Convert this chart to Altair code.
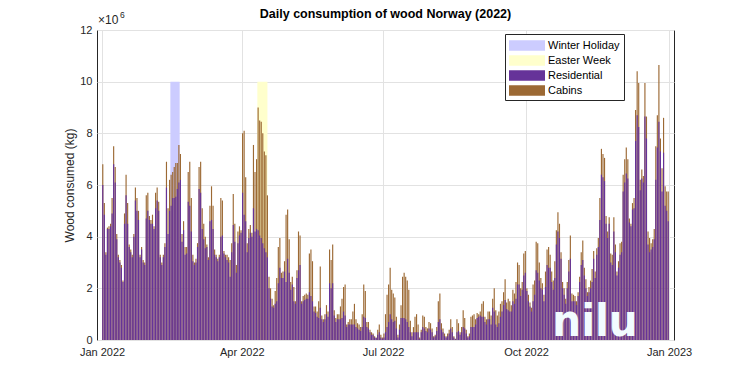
import pandas as pd
import altair as alt

# Daily values in units of 10^6 kg (total = residential + cabins; residential part)
tot_jan = [6.8, 5.3, 3.4, 4.35, 4.4, 4.5, 5.5, 7.5, 6.7, 4.1, 3.3, 3.1, 2.9, 2.3, 4.9, 6.4, 5.3, 3.7, 3.5, 3.3, 4.1, 5.9, 5.5, 5.0, 3.3, 3.6, 3.1, 3.0, 5.6, 5.7, 4.8]
res_jan = [6.0, 4.85, 3.3, 4.3, 4.3, 4.4, 4.9, 6.8, 6.1, 3.9, 3.2, 3.0, 2.8, 2.25, 4.5, 5.6, 4.5, 3.6, 3.4, 3.2, 4.0, 5.4, 5.0, 4.65, 3.2, 3.5, 3.0, 2.9, 4.7, 5.0, 4.65]
tot_feb = [4.65, 4.85, 4.4, 5.7, 5.9, 5.35, 3.3, 3.0, 3.3, 3.75, 6.9, 5.1, 6.2, 6.4, 6.5, 6.7, 6.85, 6.85, 7.55, 7.2, 4.1, 4.6, 3.6, 3.6, 6.5, 6.9, 5.5, 3.3]
res_feb = [4.5, 4.5, 4.3, 5.1, 5.4, 5.0, 3.2, 2.9, 3.2, 3.6, 5.9, 4.1, 5.0, 5.2, 5.5, 5.5, 5.55, 5.85, 6.1, 6.2, 3.8, 4.25, 3.3, 3.35, 5.35, 5.2, 4.2, 3.05]
tot_mar = [3.0, 3.15, 3.75, 6.7, 6.9, 5.1, 4.5, 4.0, 3.7, 3.2, 5.2, 5.95, 5.2, 3.5, 3.3, 3.15, 3.3, 5.5, 5.4, 3.45, 3.3, 3.3, 3.2, 3.1, 3.75, 5.65, 4.5, 2.9, 4.2, 4.4, 4.25]
res_mar = [2.9, 3.0, 3.6, 5.85, 5.7, 4.3, 3.9, 3.55, 3.6, 3.1, 4.6, 4.65, 4.3, 3.3, 3.2, 3.05, 3.2, 4.0, 4.05, 3.35, 3.2, 3.1, 3.0, 2.45, 3.4, 4.45, 3.8, 2.6, 3.75, 4.05, 4.15]
tot_apr = [8.0, 8.1, 6.3, 3.75, 4.3, 4.45, 4.15, 7.55, 6.5, 7.0, 9.0, 8.5, 8.45, 8.0, 7.3, 7.15, 5.6, 2.45, 2.0, 1.6, 1.35, 1.9, 2.4, 3.6, 3.95, 2.6, 2.65, 3.05, 4.85, 5.05]
res_apr = [5.7, 4.85, 4.6, 3.4, 3.95, 4.15, 4.0, 5.1, 4.2, 4.3, 4.25, 4.05, 3.95, 3.75, 3.55, 3.4, 3.2, 2.0, 1.6, 1.3, 1.25, 1.4, 1.5, 2.2, 2.8, 2.4, 2.4, 2.65, 2.25, 3.15]
tot_may = [3.9, 2.25, 2.45, 2.05, 1.5, 2.7, 4.2, 4.05, 1.5, 1.7, 1.75, 1.8, 1.75, 3.35, 3.5, 3.05, 1.3, 1.3, 1.1, 1.5, 2.85, 0.95, 0.8, 1.0, 1.35, 1.1, 3.5, 3.1, 3.7, 1.15, 0.85]
res_may = [2.6, 1.95, 2.15, 1.5, 1.4, 2.4, 2.7, 2.9, 1.4, 1.5, 1.55, 1.6, 1.6, 1.85, 1.7, 1.5, 1.1, 1.05, 0.9, 0.85, 1.25, 0.8, 0.7, 0.8, 1.0, 0.9, 2.2, 2.0, 2.2, 0.95, 0.7]
tot_jun = [1.0, 1.0, 1.3, 1.6, 2.05, 2.15, 0.6, 0.7, 0.8, 0.8, 1.1, 1.4, 0.8, 0.65, 0.6, 0.5, 1.0, 2.15, 1.9, 0.7, 0.7, 0.4, 0.3, 0.25, 0.15, 0.1, 0.4, 0.6, 0.2, 0.1]
res_jun = [0.8, 0.8, 0.8, 0.85, 1.1, 0.95, 0.5, 0.6, 0.6, 0.6, 0.6, 0.6, 0.5, 0.45, 0.4, 0.35, 0.5, 0.9, 0.85, 0.5, 0.45, 0.3, 0.2, 0.2, 0.1, 0.08, 0.2, 0.3, 0.1, 0.05]
tot_jul = [0.25, 1.0, 1.75, 2.15, 2.8, 1.95, 1.8, 1.65, 0.9, 0.2, 0.6, 1.35, 2.45, 2.6, 2.45, 2.3, 1.95, 0.75, 0.3, 0.5, 0.9, 1.0, 0.6, 0.1, 0.4, 0.95, 0.9, 0.5, 0.45, 0.7, 0.65]
res_jul = [0.1, 0.3, 0.5, 0.7, 1.0, 0.8, 0.7, 0.75, 0.45, 0.1, 0.4, 0.85, 0.85, 0.85, 0.8, 0.7, 0.5, 0.3, 0.15, 0.3, 0.3, 0.3, 0.3, 0.05, 0.3, 0.5, 0.45, 0.35, 0.3, 0.45, 0.4]
tot_aug = [0.45, 0.15, 0.2, 0.5, 1.5, 1.8, 0.65, 0.45, 0.25, 0.15, 0.25, 0.4, 0.8, 0.5, 0.15, 0.05, 0.8, 0.65, 0.3, 0.5, 1.15, 0.85, 0.4, 0.15, 0.25, 0.9, 0.95, 1.0, 0.8, 1.05, 1.0]
res_aug = [0.3, 0.1, 0.15, 0.35, 0.7, 0.8, 0.4, 0.3, 0.15, 0.1, 0.15, 0.25, 0.45, 0.3, 0.1, 0.03, 0.3, 0.35, 0.2, 0.3, 0.5, 0.45, 0.25, 0.1, 0.15, 0.5, 0.5, 0.5, 0.6, 0.85, 0.9]
tot_sep = [1.1, 1.4, 1.5, 0.9, 0.8, 1.1, 1.1, 0.95, 1.6, 2.0, 1.15, 0.95, 1.1, 1.4, 1.5, 1.85, 2.35, 1.45, 1.6, 1.5, 1.35, 1.95, 1.8, 2.25, 3.0, 2.9, 2.0, 2.25, 3.35, 3.45]
res_sep = [0.95, 0.9, 0.9, 0.7, 0.6, 0.8, 0.8, 0.6, 1.25, 1.1, 0.6, 0.5, 0.65, 0.9, 1.1, 1.35, 1.55, 1.2, 1.15, 1.1, 1.1, 1.5, 1.4, 1.6, 2.15, 2.15, 1.7, 1.95, 2.5, 2.6]
tot_oct = [2.0, 1.75, 1.45, 1.25, 2.15, 2.3, 3.8, 3.75, 3.0, 2.4, 2.2, 1.75, 2.65, 3.5, 3.6, 3.3, 2.65, 2.3, 3.05, 4.25, 4.95, 4.5, 3.4, 2.25, 2.0, 1.6, 2.25, 3.1, 4.05, 1.8, 1.75]
res_oct = [1.9, 1.5, 1.3, 1.1, 1.5, 1.75, 2.7, 2.6, 2.3, 2.0, 1.95, 1.5, 2.05, 2.9, 2.8, 2.8, 2.25, 1.95, 2.4, 3.7, 4.2, 3.95, 3.15, 2.0, 1.75, 1.4, 2.0, 2.65, 3.15, 1.5, 1.5]
tot_nov = [1.7, 1.5, 1.85, 2.45, 3.4, 3.85, 2.8, 2.35, 1.85, 2.05, 2.3, 2.75, 3.45, 2.65, 3.55, 3.95, 5.5, 7.4, 7.2, 7.05, 4.8, 4.2, 4.75, 3.35, 3.3, 4.75, 3.7, 2.65, 3.05, 3.75]
res_nov = [1.5, 1.35, 1.7, 2.25, 2.9, 3.1, 2.5, 2.0, 1.7, 1.85, 2.0, 2.25, 3.15, 2.4, 3.3, 3.6, 4.65, 6.4, 6.3, 6.15, 4.5, 3.95, 4.5, 3.0, 2.9, 4.2, 3.4, 2.5, 2.8, 3.3]
tot_dec = [3.8, 6.4, 7.0, 7.45, 7.0, 4.7, 4.5, 5.3, 5.5, 8.9, 10.4, 9.95, 6.2, 6.6, 6.35, 9.95, 8.65, 4.2, 3.95, 3.75, 3.9, 4.3, 7.5, 8.7, 10.65, 7.8, 6.65, 8.6, 5.95, 5.75, 5.75]
res_dec = [3.4, 5.75, 6.1, 6.45, 6.25, 4.55, 4.4, 5.05, 5.1, 7.7, 8.7, 8.25, 5.8, 6.25, 6.1, 8.65, 7.8, 3.7, 3.4, 3.5, 3.6, 3.9, 6.2, 7.45, 8.45, 7.3, 5.75, 7.25, 5.2, 5.0, 4.6]

# Holiday periods
shade_names = ["Winter Holiday", "Easter Week"]
shade_start = ["2022-02-14T00:00:00", "2022-04-11T00:00:00"]
shade_end = ["2022-02-20T00:00:00", "2022-04-17T12:00:00"]
shade_top = [10.0, 10.0]

series_order = ["Winter Holiday", "Easter Week", "Residential", "Cabins"]
series_colors = ["#ccccff", "#ffffcc", "#663399", "#9c6934"]

title_text = "Daily consumption of wood Norway (2022)"

total = (tot_jan + tot_feb + tot_mar + tot_apr + tot_may + tot_jun +
         tot_jul + tot_aug + tot_sep + tot_oct + tot_nov + tot_dec)
resid = (res_jan + res_feb + res_mar + res_apr + res_may + res_jun +
         res_jul + res_aug + res_sep + res_oct + res_nov + res_dec)
dates = pd.date_range("2022-01-01 12:00", periods=len(total), freq="D")

df = pd.DataFrame({
    "date": dates.strftime("%Y-%m-%dT%H:%M:%S"),
    "total": total,
    "resid": resid,
    "cab": ["Cabins"] * len(total),
    "res": ["Residential"] * len(total),
})
shades = pd.DataFrame({"name": shade_names, "start": shade_start,
                       "end": shade_end, "top": shade_top})

FONT = "Liberation Sans"
xdom = [alt.DateTime(year=2022, month=1, date=1), alt.DateTime(year=2023, month=1, date=1)]
xticks = [alt.DateTime(year=2022, month=m, date=1) for m in (1, 4, 7, 10)] + \
         [alt.DateTime(year=2023, month=1, date=1)]
xscale = alt.Scale(domain=xdom, nice=False)
xaxis = alt.Axis(values=xticks, format="%b %Y", title=None, grid=True,
                 labelFlush=False, labelOverlap=False, ticks=False,
                 domain=False, labelPadding=6)
yscale = alt.Scale(domain=[0, 12], nice=False)
yaxis = alt.Axis(values=[0, 2, 4, 6, 8, 10, 12], format="d",
                 title="Wood consumed (kg)", ticks=False, domain=False,
                 labelPadding=5, titlePadding=3, grid=True)

color_scale = alt.Scale(domain=series_order, range=series_colors)
legend = alt.Legend(title=None, orient="none", legendX=408, legendY=4,
                    direction="vertical",
                    symbolType="M-1,-0.7H3.8V0.7H-1Z", symbolSize=225,
                    symbolStrokeWidth=0, symbolOpacity=1,
                    labelFont=FONT, labelFontSize=11, labelColor="black",
                    labelOffset=24, padding=4, rowPadding=2,
                    strokeColor="#262626", fillColor="white")

shade_layer = alt.Chart(shades).mark_rect(opacity=1).encode(
    x=alt.X("start:T", scale=xscale, axis=xaxis),
    x2="end:T",
    y=alt.Y("top:Q", scale=yscale, axis=yaxis),
    y2=alt.datum(0),
    color=alt.Color("name:N", scale=color_scale, legend=legend),
)

cab_layer = alt.Chart(df).mark_bar(width=1.15).encode(
    x=alt.X("date:T", scale=xscale, axis=xaxis),
    y=alt.Y("total:Q", scale=yscale, axis=yaxis),
    color=alt.Color("cab:N", scale=color_scale, legend=legend),
)
res_layer = alt.Chart(df).mark_bar(width=1.15).encode(
    x=alt.X("date:T", scale=xscale, axis=xaxis),
    y=alt.Y("resid:Q", scale=yscale, axis=yaxis),
    color=alt.Color("res:N", scale=color_scale, legend=legend),
)

title_layer = alt.Chart(pd.DataFrame({"t": [title_text]})).mark_text(
    font=FONT, fontSize=12.5, fontWeight="bold", align="center",
    baseline="middle", color="black"
).encode(text="t:N", x=alt.value(288.5), y=alt.value(-16))

exp_base = alt.Chart(pd.DataFrame({"t": ["×10"]})).mark_text(
    font=FONT, fontSize=12, align="left", baseline="alphabetic", color="#262626"
).encode(text="t:N", x=alt.value(1), y=alt.value(-6))
exp_sup = alt.Chart(pd.DataFrame({"t": ["6"]})).mark_text(
    font=FONT, fontSize=8.5, align="left", baseline="alphabetic", color="#262626"
).encode(text="t:N", x=alt.value(23), y=alt.value(-12))

logo = alt.Chart(pd.DataFrame({"t": ["nilu"]})).mark_text(
    font="DejaVu Sans Condensed, DejaVu Sans, sans-serif",
    fontSize=45, fontWeight="bold", align="center",
    baseline="alphabetic", color="#f2fbff"
).encode(text="t:N", x=alt.value(498), y=alt.value(306))

chart = alt.layer(shade_layer, cab_layer, res_layer, logo,
                  title_layer, exp_base, exp_sup).properties(
    width=577, height=310,
    autosize=alt.AutoSizeParams(type="none"),
    padding={"left": 89, "top": 22, "right": 60, "bottom": 28},
).configure_view(
    stroke="#262626", strokeWidth=1
).configure_axis(
    labelFont=FONT, labelFontSize=11, labelColor="#262626",
    titleFont=FONT, titleFontSize=12, titleFontWeight="normal", titleColor="#262626",
    gridColor="#e2e2e2", gridWidth=1,
)

chart.save("out.html", embed_options={"renderer": "svg", "actions": False})
